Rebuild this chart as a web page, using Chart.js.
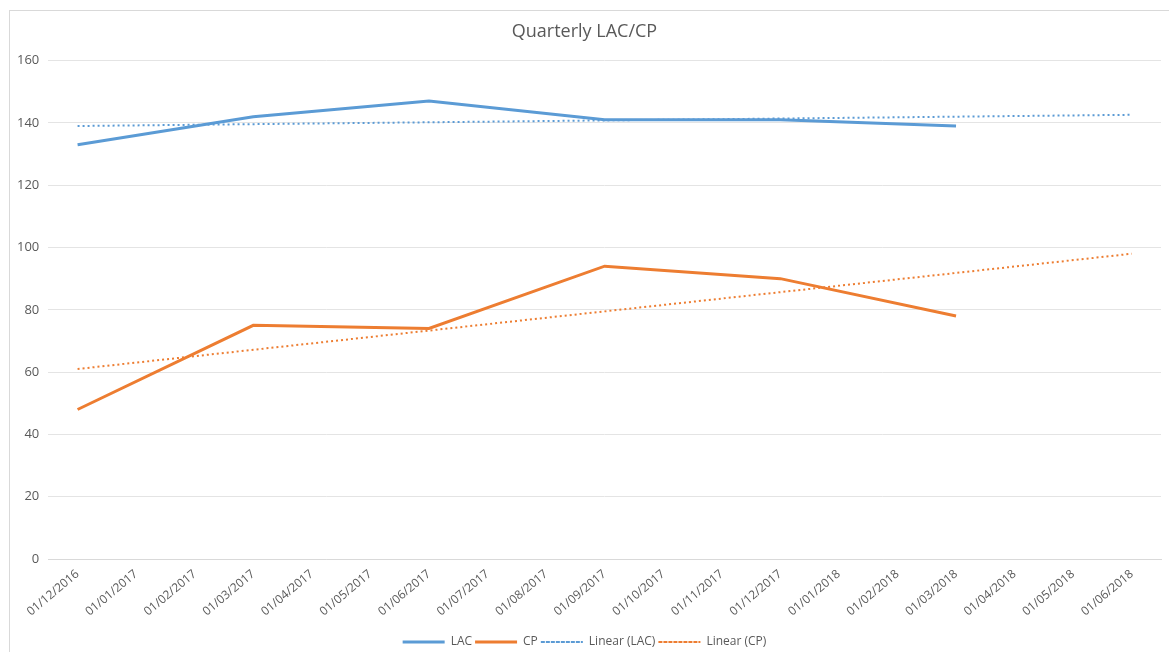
<!DOCTYPE html>
<html>
<head>
<meta charset="utf-8">
<script src="https://cdn.jsdelivr.net/npm/chart.js@4"></script>
<style>
  html, body { margin: 0; padding: 0; background: #fff; overflow: hidden; }
  #frame {
    position: absolute; left: 9px; top: 10px;
    width: 1160px; height: 642px;
    border: 1px solid #d9d9d9; border-right: none; border-bottom: none;
    box-sizing: border-box;
  }
  #box { position: absolute; left: 5px; top: 11px; width: 1164px; height: 641px; }
</style>
</head>
<body>
<div id="frame"></div>
<div id="box"><canvas id="lacChart"></canvas></div>
<script>
const months = ['01/12/2016', '01/01/2017', '01/02/2017', '01/03/2017', '01/04/2017', '01/05/2017',
    '01/06/2017', '01/07/2017', '01/08/2017', '01/09/2017', '01/10/2017', '01/11/2017',
    '01/12/2017', '01/01/2018', '01/02/2018', '01/03/2018', '01/04/2018', '01/05/2018', '01/06/2018'];

// quarterly values (null = no reading that month)
const lac = [133, null, null, 142, null, null, 147, null, null, 141, null, null, 141, null, null, 139, null, null, null];
const cp  = [48, null, null, 75, null, null, 74, null, null, 94, null, null, 90, null, null, 78, null, null, null];

// trend lines, read at both ends
const lacTrend = [139, null, null, null, null, null, null, null, null, null, null, null, null, null, null, null, null, null, 142.6];
const cpTrend  = [61, null, null, null, null, null, null, null, null, null, null, null, null, null, null, null, null, null, 98];

const blue = '#5B9BD5';
const orange = '#ED7D31';
const grey = '#595959';

Chart.defaults.font.family = 'Open Sans';
Chart.defaults.color = grey;

new Chart(document.getElementById('lacChart').getContext('2d'), {
    type: 'line',
    data: {
        labels: months,
        datasets: [
            { label: 'LAC', data: lac, borderColor: blue, backgroundColor: blue, borderWidth: 3, spanGaps: true, pointRadius: 0, tension: 0 },
            { label: 'CP', data: cp, borderColor: orange, backgroundColor: orange, borderWidth: 3, spanGaps: true, pointRadius: 0, tension: 0 },
            { label: 'Linear (LAC)', data: lacTrend, borderColor: blue, backgroundColor: blue, borderWidth: 2, borderDash: [2, 3], spanGaps: true, pointRadius: 0 },
            { label: 'Linear (CP)', data: cpTrend, borderColor: orange, backgroundColor: orange, borderWidth: 2, borderDash: [2, 3], spanGaps: true, pointRadius: 0 }
        ]
    },
    options: {
        responsive: true,
        maintainAspectRatio: false,
        animation: false,
        layout: { padding: { left: 3, right: 8, top: 2, bottom: -6 } },
        plugins: {
            title: {
                display: true,
                text: 'Quarterly LAC/CP',
                color: grey,
                font: { size: 18, weight: 'normal' },
                padding: { top: 8, bottom: 18 }
            },
            legend: {
                position: 'bottom',
                labels: {
                    boxWidth: 42,
                    boxHeight: 0,
                    padding: 3,
                    font: { size: 12 },
                    color: grey
                }
            },
            tooltip: { enabled: false }
        },
        scales: {
            x: {
                offset: true,
                grid: { display: false },
                border: { color: '#d9d9d9' },
                ticks: { minRotation: 40, maxRotation: 40, autoSkip: false, padding: 0, font: { size: 12 }, color: grey },
                // room under the rotated labels so they clear the legend
                afterFit: (scale) => { scale.height = 74; }
            },
            y: {
                min: 0,
                max: 160,
                ticks: { stepSize: 20, font: { size: 13 }, color: grey, padding: 9 },
                grid: { color: '#e4e4e4', drawTicks: false },
                border: { display: false }
            }
        }
    }
});
</script>
</body>
</html>
